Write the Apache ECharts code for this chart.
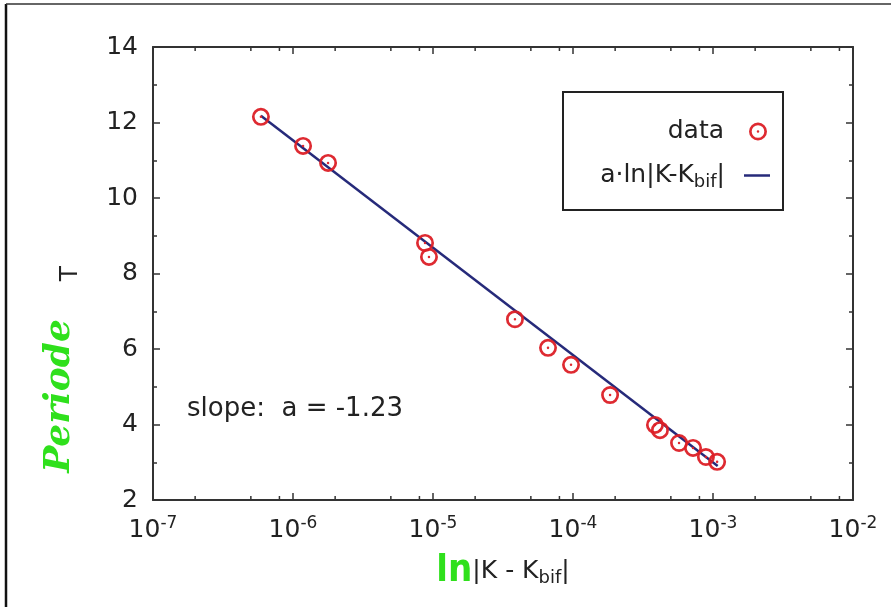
<!DOCTYPE html>
<html>
<head>
<meta charset="utf-8">
<script src="https://cdn.jsdelivr.net/npm/echarts@6/dist/echarts.min.js"></script>
<style>
html,body{margin:0;padding:0;background:#fff;}
#chart{width:891px;height:607px;}
</style>
</head>
<body>
<div id="chart"></div>
<script>
// ---- data ----
const kDiff = [5.9e-7, 1.18e-6, 1.78e-6, 8.77e-6, 9.36e-6, 3.85e-5, 6.63e-5, 9.68e-5, 1.84e-4, 3.85e-4, 4.18e-4, 5.72e-4, 7.2e-4, 8.9e-4, 1.07e-3];
const period = [12.15, 11.38, 10.93, 8.81, 8.44, 6.79, 6.03, 5.58, 4.78, 3.99, 3.85, 3.51, 3.38, 3.14, 3.01];
const fitX = [5.9e-7, 1.08e-3];
const fitT = [12.18, 2.9];
const minorTickX = [2e-7, 5e-7, 8e-7, 2e-6, 5e-6, 8e-6, 2e-5, 5e-5, 8e-5, 2e-4, 5e-4, 8e-4, 2e-3, 5e-3, 8e-3];
const yTicks = [2, 4, 6, 8, 10, 12, 14];
const xDecades = [1e-7, 1e-2];

const FONT = 'DejaVu Sans, sans-serif';
const TXT = '#222';
const AX = '#333';
const RED = '#dc1f26';
const BLUE = '#262a7a';
const GREEN = '#2fe01c';

const ringPath = 'path://M0,-10A10,10,0,1,1,0,10A10,10,0,1,1,0,-10Z' +
  'M0,-7.0A7.0,7.0,0,1,0,0,7.0A7.0,7.0,0,1,0,0,-7.0Z' +
  'M0,-1.4A1.4,1.4,0,1,1,0,1.4A1.4,1.4,0,1,1,0,-1.4Z';

const chart = echarts.init(document.getElementById('chart'));

function expLabel(v) {
  const e = Math.round(Math.log10(v));
  return '10{s|' + e + '}';
}

const axisLineStyle = { color: AX, width: 2 };

chart.setOption({
  animation: false,
  backgroundColor: '#fff',
  textStyle: { fontFamily: FONT },
  grid: { left: 153, right: 38, top: 47, bottom: 107, containLabel: false },
  xAxis: [
    {
      type: 'log', logBase: 10, min: xDecades[0], max: xDecades[1], position: 'bottom',
      axisLine: { show: true, lineStyle: axisLineStyle },
      axisTick: { show: true, inside: true, length: 7, lineStyle: { color: AX, width: 1.5 } },
      splitLine: { show: false },
      axisLabel: {
        margin: 15, color: TXT, fontSize: 25, fontFamily: FONT,
        formatter: expLabel,
        rich: { s: { fontSize: 17, padding: [0, 0, 14, 0], color: TXT, fontFamily: FONT } }
      },
      name: '{g|ln}|K - K{b|bif}|',
      nameLocation: 'middle', nameGap: 52,
      nameTextStyle: {
        color: TXT, fontSize: 25, fontFamily: FONT,
        rich: {
          g: { color: GREEN, fontSize: 38, fontWeight: 'bold', fontFamily: 'DejaVu Sans Condensed, DejaVu Sans' },
          b: { fontSize: 18, padding: [14, 0, 0, 0], color: TXT, fontFamily: FONT }
        }
      }
    },
    {
      type: 'log', logBase: 10, min: xDecades[0], max: xDecades[1], position: 'top',
      axisLine: { show: true, lineStyle: axisLineStyle },
      axisTick: { show: true, inside: true, length: 7, lineStyle: { color: AX, width: 1.5 } },
      axisLabel: { show: false }, splitLine: { show: false }
    }
  ],
  yAxis: [
    {
      type: 'value', min: yTicks[0], max: yTicks[yTicks.length - 1], interval: 2, position: 'left',
      axisLine: { show: true, lineStyle: axisLineStyle },
      axisTick: { show: true, inside: true, length: 7, lineStyle: { color: AX, width: 1.5 } },
      minorTick: { show: true, splitNumber: 2, length: 4, lineStyle: { color: AX, width: 1.5 } },
      splitLine: { show: false },
      axisLabel: { margin: 15, color: TXT, fontSize: 25, fontFamily: FONT },
      name: 'T', nameLocation: 'middle', nameGap: 70, nameRotate: 90,
      nameTextStyle: { color: TXT, fontSize: 25, fontFamily: FONT }
    },
    {
      type: 'value', min: yTicks[0], max: yTicks[yTicks.length - 1], interval: 2, position: 'right',
      axisLine: { show: true, lineStyle: axisLineStyle },
      axisTick: { show: true, inside: true, length: 7, lineStyle: { color: AX, width: 1.5 } },
      minorTick: { show: true, splitNumber: 2, length: 4, lineStyle: { color: AX, width: 1.5 } },
      splitLine: { show: false }, axisLabel: { show: false }
    }
  ],
  legend: [
    {
      data: [{ name: 'data', icon: ringPath }],
      right: 124, top: 119, orient: 'vertical', align: 'right', padding: 0,
      itemWidth: 18, itemHeight: 18,
      textStyle: { color: TXT, fontSize: 25, fontFamily: FONT, padding: [0, 20, 0, 0] },
      selectedMode: false
    },
    {
      data: [{ name: 'fit', icon: 'rect' }],
      right: 121, top: 163, orient: 'vertical', align: 'right', padding: 0,
      itemWidth: 26, itemHeight: 2.5,
      formatter: function () { return 'a·ln|K-K{b|bif}|'; },
      textStyle: {
        color: TXT, fontSize: 25, fontFamily: FONT, padding: [0, 14, 0, 0],
        rich: { b: { fontSize: 18, padding: [14, 0, 0, 0], color: TXT, fontFamily: FONT } }
      },
      selectedMode: false
    }
  ],
  graphic: [
    { type: 'line', shape: { x1: 6, y1: 4, x2: 6, y2: 607 }, style: { stroke: '#111', lineWidth: 2.5 } },
    { type: 'line', shape: { x1: 6, y1: 4, x2: 891, y2: 4 }, style: { stroke: '#333', lineWidth: 1.5 } },
    { type: 'rect', shape: { x: 563, y: 92, width: 220, height: 118 }, style: { fill: 'none', stroke: '#222', lineWidth: 2 } },
    { type: 'text', left: 187, top: 396, style: { text: 'slope:  a = -1.23', fontSize: 26, fill: TXT, fontFamily: FONT } },
    { type: 'text', x: 60, y: 396, rotation: Math.PI / 2, style: { text: 'Periode', fontSize: 36, fontWeight: 'bold', fontStyle: 'italic', fontFamily: 'DejaVu Serif', fill: GREEN, align: 'center', verticalAlign: 'middle' } }
  ],
  series: [
    {
      name: 'minorTicks', type: 'custom', xAxisIndex: 0, yAxisIndex: 0, silent: true, clip: false,
      data: minorTickX.map(function (v) { return [v, yTicks[0]]; }),
      renderItem: function (params, api) {
        const x = api.coord([api.value(0), api.value(1)])[0];
        const cs = params.coordSys;
        return {
          type: 'group', children: [
            { type: 'line', shape: { x1: x, y1: cs.y + cs.height, x2: x, y2: cs.y + cs.height - 4 }, style: { stroke: AX, lineWidth: 1.5 } },
            { type: 'line', shape: { x1: x, y1: cs.y, x2: x, y2: cs.y + 4 }, style: { stroke: AX, lineWidth: 1.5 } }
          ]
        };
      }
    },
    {
      name: 'fit', type: 'line', xAxisIndex: 0, yAxisIndex: 0,
      data: fitX.map(function (x, i) { return [x, fitT[i]]; }),
      symbol: 'none', lineStyle: { color: BLUE, width: 2.5 }, itemStyle: { color: BLUE }, z: 2
    },
    {
      name: 'data', type: 'scatter', xAxisIndex: 0, yAxisIndex: 0,
      data: kDiff.map(function (x, i) { return [x, period[i]]; }),
      symbol: ringPath, symbolSize: 18, itemStyle: { color: RED, opacity: 0.95 }, z: 3
    }
  ]
});
</script>
</body>
</html>
